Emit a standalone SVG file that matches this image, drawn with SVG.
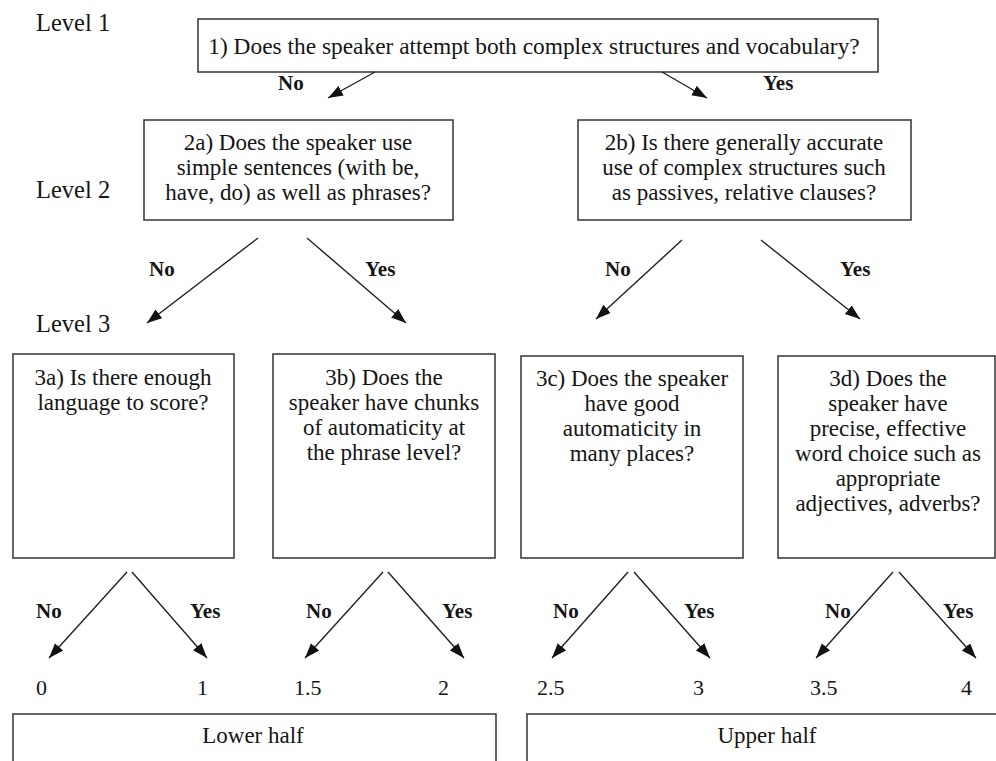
<svg xmlns="http://www.w3.org/2000/svg" width="996" height="761" viewBox="0 0 996 761">
  <style>
    text { font-family: 'Liberation Serif', 'Times New Roman', Times, 'DejaVu Serif', serif; fill: #151515; }
    .box { fill: #ffffff; stroke: #333333; stroke-width: 1.5; }
    .q { font-size: 23px; text-anchor: middle; }
    .lvl { font-size: 24.5px; }
    .yn { font-size: 21px; font-weight: bold; }
    .score { font-size: 22px; }
    .edge { stroke: #222222; stroke-width: 1.4; fill: none; marker-end: url(#arrow); }
  </style>
  <defs>
    <marker id="arrow" markerUnits="userSpaceOnUse" markerWidth="16" markerHeight="12" refX="15" refY="5.5" orient="auto">
      <path d="M0,0 L15,5.5 L0,11 z" fill="#111111"/>
    </marker>
  </defs>

  <rect width="996" height="761" fill="#ffffff"/>

  <!-- level captions -->
  <g id="level-labels">
    <text class="lvl" x="36" y="31">Level 1</text>
    <text class="lvl" x="36" y="198">Level 2</text>
    <text class="lvl" x="36" y="332">Level 3</text>
  </g>

  <!-- question nodes -->
  <g id="q1">
    <rect class="box" x="198" y="19" width="680" height="53"/>
    <text class="q" x="534" y="54" style="font-size:23.4px">1) Does the speaker attempt both complex structures and vocabulary?</text>
  </g>

  <g id="q2a">
    <rect class="box" x="144" y="120" width="309" height="100"/>
    <text class="q" x="298" y="150">2a) Does the speaker use</text>
    <text class="q" x="298" y="175">simple sentences (with be,</text>
    <text class="q" x="298" y="200">have, do) as well as phrases?</text>
  </g>

  <g id="q2b">
    <rect class="box" x="578" y="120" width="333" height="100"/>
    <text class="q" x="744" y="150">2b) Is there generally accurate</text>
    <text class="q" x="744" y="175">use of complex structures such</text>
    <text class="q" x="744" y="200">as passives, relative clauses?</text>
  </g>

  <g id="q3a">
    <rect class="box" x="13" y="354" width="221" height="204"/>
    <text class="q" x="123" y="385">3a) Is there enough</text>
    <text class="q" x="123" y="410">language to score?</text>
  </g>

  <g id="q3b">
    <rect class="box" x="273" y="354" width="222" height="204"/>
    <text class="q" x="384" y="385">3b) Does the</text>
    <text class="q" x="384" y="410">speaker have chunks</text>
    <text class="q" x="384" y="435">of automaticity at</text>
    <text class="q" x="384" y="460">the phrase level?</text>
  </g>

  <g id="q3c">
    <rect class="box" x="521" y="356" width="222" height="202"/>
    <text class="q" x="632" y="386">3c) Does the speaker</text>
    <text class="q" x="632" y="411">have good</text>
    <text class="q" x="632" y="436">automaticity in</text>
    <text class="q" x="632" y="461">many places?</text>
  </g>

  <g id="q3d">
    <rect class="box" x="778" y="356" width="217" height="202"/>
    <text class="q" x="888" y="386">3d) Does the</text>
    <text class="q" x="888" y="411">speaker have</text>
    <text class="q" x="888" y="436">precise, effective</text>
    <text class="q" x="888" y="461">word choice such as</text>
    <text class="q" x="888" y="486">appropriate</text>
    <text class="q" x="888" y="511">adjectives, adverbs?</text>
  </g>

  <!-- score bands -->
  <g id="lower-half">
    <rect class="box" x="13" y="714" width="483" height="60"/>
    <text class="q" x="253" y="743">Lower half</text>
  </g>

  <g id="upper-half">
    <rect class="box" x="527" y="714" width="480" height="60"/>
    <text class="q" x="767" y="743">Upper half</text>
  </g>

  <!-- branch arrows -->
  <g id="connectors">
    <line class="edge" x1="375" y1="72" x2="328" y2="98"/>
    <line class="edge" x1="662" y1="72" x2="707" y2="98"/>

    <line class="edge" x1="258" y1="238" x2="147" y2="323"/>
    <line class="edge" x1="307" y1="238" x2="406" y2="323"/>
    <line class="edge" x1="682" y1="240" x2="596" y2="319"/>
    <line class="edge" x1="761" y1="240" x2="860" y2="319"/>

    <line class="edge" x1="127" y1="572" x2="49" y2="658"/>
    <line class="edge" x1="132" y1="572" x2="207" y2="658"/>
    <line class="edge" x1="383" y1="572" x2="305" y2="658"/>
    <line class="edge" x1="388" y1="572" x2="464" y2="658"/>
    <line class="edge" x1="628" y1="572" x2="552" y2="658"/>
    <line class="edge" x1="634" y1="572" x2="710" y2="658"/>
    <line class="edge" x1="893" y1="572" x2="816" y2="658"/>
    <line class="edge" x1="899" y1="572" x2="976" y2="658"/>
  </g>

  <!-- branch labels -->
  <g id="branch-labels">
    <text class="yn" x="278" y="90">No</text>
    <text class="yn" x="763" y="90">Yes</text>

    <text class="yn" x="149" y="276">No</text>
    <text class="yn" x="365" y="276">Yes</text>
    <text class="yn" x="605" y="276">No</text>
    <text class="yn" x="840" y="276">Yes</text>

    <text class="yn" x="36" y="618">No</text>
    <text class="yn" x="190" y="618">Yes</text>
    <text class="yn" x="306" y="618">No</text>
    <text class="yn" x="442" y="618">Yes</text>
    <text class="yn" x="553" y="618">No</text>
    <text class="yn" x="684" y="618">Yes</text>
    <text class="yn" x="825" y="618">No</text>
    <text class="yn" x="943" y="618">Yes</text>
  </g>

  <!-- scores -->
  <g id="scores">
    <text class="score" x="36" y="695">0</text>
    <text class="score" x="197" y="695">1</text>
    <text class="score" x="294" y="695">1.5</text>
    <text class="score" x="438" y="695">2</text>
    <text class="score" x="537" y="695">2.5</text>
    <text class="score" x="693" y="695">3</text>
    <text class="score" x="810" y="695">3.5</text>
    <text class="score" x="961" y="695">4</text>
  </g>
</svg>
